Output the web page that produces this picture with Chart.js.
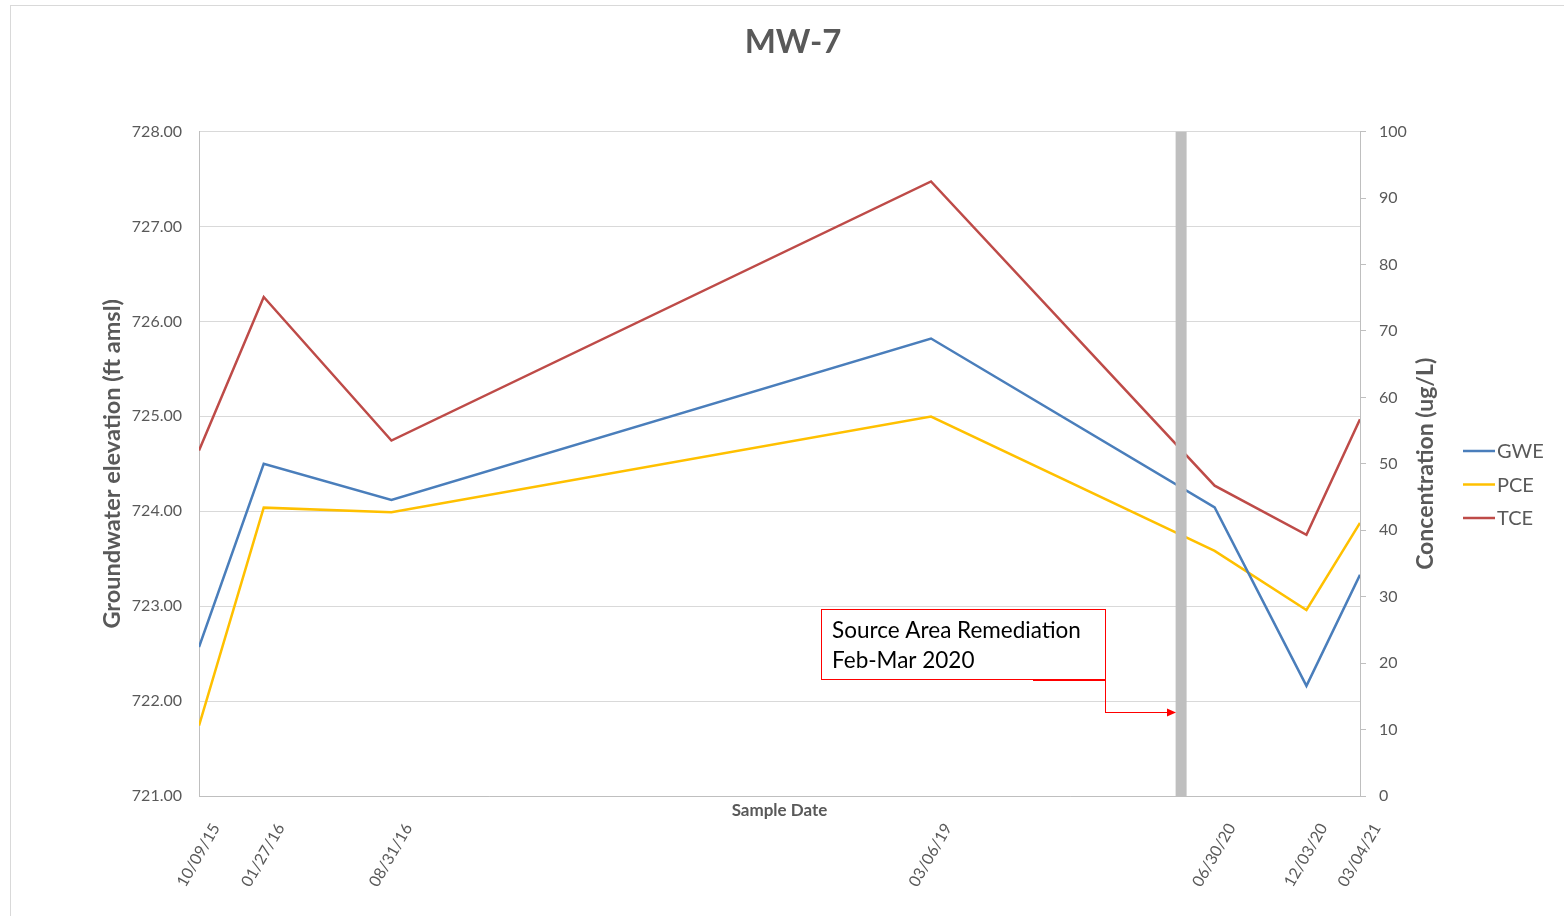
<!DOCTYPE html>
<html>
<head>
<meta charset="utf-8">
<script src="https://cdn.jsdelivr.net/npm/chart.js@4"></script>
<style>
  html, body { margin: 0; padding: 0; background: #fff; overflow: hidden; }
  #frame { position: absolute; left: 10px; top: 5px; width: 1564px; height: 910px; border: 1px solid #d9d9d9; }
  canvas { display: block; }
</style>
</head>
<body>
<div id="frame"><canvas id="myChart" width="1564" height="910"></canvas></div>
<script>
const sampleDates = ['10/09/15', '01/27/16', '08/31/16', '03/06/19', '06/30/20', '12/03/20', '03/04/21'];
const gwe = [722.57, 724.50, 724.12, 725.82, 724.04, 722.16, 723.33];
const pce = [10.6, 43.4, 42.7, 57.1, 36.9, 28.0, 41.1];
const tce = [52.0, 75.1, 53.5, 92.5, 46.7, 39.3, 56.7];
const remediationDate = '05/04/20';
const noteLines = ['Source Area Remediation', 'Feb-Mar 2020'];

const toDay = s => {
  const [m, d, y] = s.split('/').map(Number);
  return Date.UTC(2000 + y, m - 1, d) / 86400000;
};
const day0 = toDay(sampleDates[0]);
const xs = sampleDates.map(s => toDay(s) - day0);
const barDay = toDay(remediationDate) - day0;

// note box in x-days / right axis units
const note = { x0: 1057, x1: 1540, top: 28.2, bottom: 17.6, arrowY: 12.6, elbowFrom: 1418 };

const grey = '#595959';
Chart.defaults.font.family = 'Lato';
Chart.defaults.color = grey;

const series = [
  { label: 'GWE', data: gwe, color: '#4a7ebb', axis: 'y' },
  { label: 'PCE', data: pce, color: '#ffc000', axis: 'y1' },
  { label: 'TCE', data: tce, color: '#be4b48', axis: 'y1' }
];

const extras = {
  id: 'extras',
  afterDraw(chart) {
    const { ctx, chartArea: a, scales: { x, y1 } } = chart;
    ctx.save();

    // remediation note
    const bx0 = Math.round(x.getPixelForValue(note.x0));
    const bx1 = Math.round(x.getPixelForValue(note.x1));
    const by0 = Math.round(y1.getPixelForValue(note.top));
    const by1 = Math.round(y1.getPixelForValue(note.bottom));
    ctx.fillStyle = '#fff';
    ctx.fillRect(bx0, by0, bx1 - bx0, by1 - by0);
    ctx.fillStyle = '#ff0000';
    ctx.fillRect(bx0, by0, bx1 - bx0 + 1, 1);
    ctx.fillRect(bx0, by1, bx1 - bx0 + 1, 1);
    ctx.fillRect(bx0, by0, 1, by1 - by0 + 1);
    ctx.fillRect(bx1, by0, 1, by1 - by0 + 1);
    ctx.fillStyle = '#000';
    ctx.font = '22.5px Lato';
    ctx.textBaseline = 'middle';
    ctx.textAlign = 'left';
    noteLines.forEach((t, i) => ctx.fillText(t, bx0 + 11, by0 + 22 + i * 30));

    // elbow connector with arrow
    const ay = Math.round(y1.getPixelForValue(note.arrowY));
    const tip = Math.round(x.getPixelForValue(barDay) - 5);
    ctx.fillStyle = '#ff0000';
    const ex = Math.round(x.getPixelForValue(note.elbowFrom));
    ctx.fillRect(ex, by1 + 1, bx1 - ex + 1, 1);
    ctx.fillRect(bx1, by1, 1, ay - by1 + 1);
    ctx.fillRect(bx1, ay, tip - 8 - bx1, 1);
    ctx.beginPath();
    ctx.moveTo(tip, ay + 0.5);
    ctx.lineTo(tip - 9, ay - 3.5);
    ctx.lineTo(tip - 9, ay + 4.5);
    ctx.closePath();
    ctx.fill();

    // x axis title
    ctx.fillStyle = grey;
    ctx.font = 'bold 17px Lato';
    ctx.textAlign = 'center';
    ctx.fillText('Sample Date', (a.left + a.right) / 2, a.bottom + 15);

    // right axis title
    ctx.save();
    ctx.translate(1415, (a.top + a.bottom) / 2);
    ctx.rotate(-Math.PI / 2);
    ctx.font = 'bold 23px Lato';
    ctx.fillText('Concentration (ug/L)', 0, 0);
    ctx.restore();

    // legend
    ctx.font = '20px Lato';
    ctx.textAlign = 'left';
    series.forEach((s, i) => {
      const ly = 445 + i * 33.5;
      ctx.strokeStyle = s.color;
      ctx.lineWidth = 2.5;
      ctx.beginPath();
      ctx.moveTo(1452, ly);
      ctx.lineTo(1484, ly);
      ctx.stroke();
      ctx.fillStyle = grey;
      ctx.fillText(s.label, 1486, ly + 1);
    });
    ctx.restore();
  }
};

const datasets = series.map(s => ({
  label: s.label,
  data: s.data.map((v, i) => ({ x: xs[i], y: v })),
  borderColor: s.color,
  borderWidth: 2.5,
  pointRadius: 0,
  tension: 0,
  yAxisID: s.axis,
  order: 1
}));
datasets.push({
  label: 'Remediation',
  data: [{ x: barDay, y: 0 }, { x: barDay, y: 100 }],
  borderColor: '#bfbfbf',
  borderWidth: 11,
  pointRadius: 0,
  yAxisID: 'y1',
  order: -1
});

new Chart('myChart', {
  type: 'line',
  data: { datasets },
  options: {
    responsive: false,
    animation: false,
    layout: { padding: { left: 0, right: 0, top: 0, bottom: 0 } },
    plugins: {
      legend: { display: false },
      tooltip: { enabled: false },
      title: {
        display: true,
        text: 'MW-7',
        color: grey,
        font: { size: 33, weight: 'bold' },
        padding: { top: 17, bottom: 69 }
      }
    },
    scales: {
      x: {
        type: 'linear',
        min: 0,
        max: xs[xs.length - 1],
        afterBuildTicks: s => { s.ticks = xs.map(v => ({ value: v })); },
        afterFit: s => { s.height = 120; },
        ticks: {
          autoSkip: false,
          minRotation: 60,
          maxRotation: 60,
          padding: 16,
          labelOffset: 17,
          color: grey,
          font: { size: 16 },
          callback: v => sampleDates[xs.indexOf(v)]
        },
        grid: { display: false },
        border: { display: true, color: '#bfbfbf' }
      },
      y: {
        position: 'left',
        min: 721,
        max: 728,
        afterFit: s => { s.width = 188; },
        ticks: { stepSize: 1, padding: 17, color: grey, font: { size: 16 }, callback: v => v.toFixed(2) },
        grid: { color: '#d9d9d9', drawTicks: false },
        border: { color: '#bfbfbf' },
        title: {
          display: true,
          text: 'Groundwater elevation (ft amsl)',
          color: grey,
          font: { size: 23.5, weight: 'bold' },
          padding: { top: 87, bottom: 0 }
        }
      },
      y1: {
        position: 'right',
        min: 0,
        max: 100,
        afterFit: s => { s.width = 215; },
        ticks: { stepSize: 10, padding: 13, color: grey, font: { size: 16 } },
        grid: { drawOnChartArea: false, drawTicks: true, tickLength: 6, color: '#bfbfbf' },
        border: { color: '#bfbfbf' }
      }
    }
  },
  plugins: [extras]
});
</script>
</body>
</html>
